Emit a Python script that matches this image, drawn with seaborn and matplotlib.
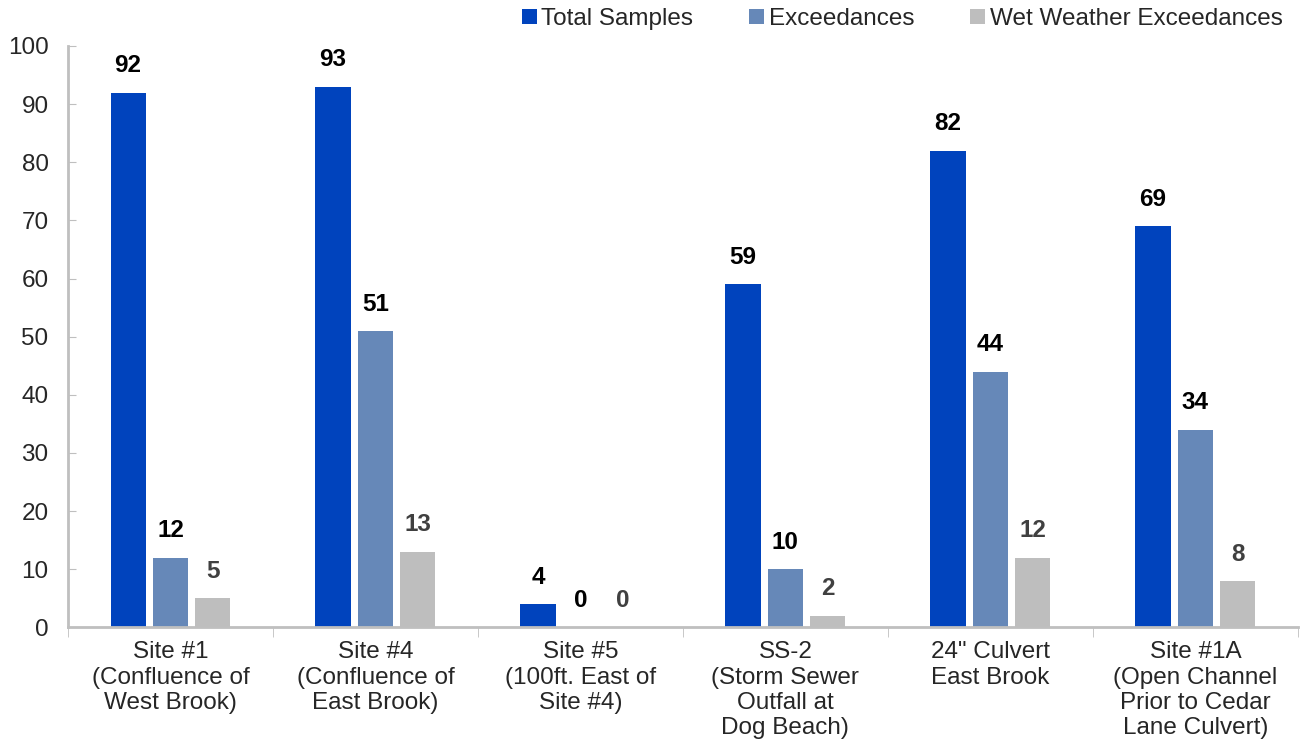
import pandas as pd
import matplotlib.pyplot as plt
import seaborn as sns

sites = [
    "Site #1\n(Confluence of\nWest Brook)",
    "Site #4\n(Confluence of\nEast Brook)",
    "Site #5\n(100ft. East of\nSite #4)",
    "SS-2\n(Storm Sewer\nOutfall at\nDog Beach)",
    "24\" Culvert\nEast Brook",
    "Site #1A\n(Open Channel\nPrior to Cedar\nLane Culvert)",
]
total_samples = [92, 93, 4, 59, 82, 69]
exceedances = [12, 51, 0, 10, 44, 34]
wet_exceedances = [5, 13, 0, 2, 12, 8]
series = ["Total Samples", "Exceedances", "Wet Weather Exceedances"]
colores = ["#0043BD", "#6688B8", "#BEBEBE"]

dados = pd.DataFrame({
    "Site": sites * 3,
    "Serie": [series[0]] * 6 + [series[1]] * 6 + [series[2]] * 6,
    "Valor": total_samples + exceedances + wet_exceedances,
})

sns.set_style("white")
plt.rcParams["font.family"] = ["Liberation Sans", "DejaVu Sans"]

fig = plt.figure(figsize=(13.07, 7.54), dpi=100)
ax = fig.add_axes([0.052, 0.168, 0.941, 0.771])

sns.barplot(data=dados, x="Site", y="Valor", hue="Serie", palette=colores,
            width=0.62, gap=0.17, saturation=1, linewidth=0, ax=ax, legend=True)

cores_rotulo = ["black", "black", "#404040"]
for cont, cor in zip(ax.containers, cores_rotulo):
    ax.bar_label(cont, padding=11, fontsize=17.5, fontweight="bold", color=cor)

ax.set_ylim(0, 100)
ax.set_xlim(-0.5, 5.5)
ax.set_yticks(range(0, 101, 10))
ax.set_xlabel("")
ax.set_ylabel("")
ax.tick_params(axis="y", labelsize=17.5, direction="in", length=6, color="#BFBFBF", left=True, pad=14)
ax.tick_params(axis="x", which="major", labelsize=17.5, length=0, pad=10)
ax.set_xticks([i + 0.5 for i in range(-1, 6)], minor=True)
ax.tick_params(axis="x", which="minor", length=7, color="#BFBFBF", bottom=True, direction="out")

for lado in ["top", "right"]:
    ax.spines[lado].set_visible(False)
for lado in ["left", "bottom"]:
    ax.spines[lado].set_color("#BFBFBF")
    ax.spines[lado].set_linewidth(2)

handles, labels = ax.get_legend_handles_labels()
ax.legend_.remove()
fig.legend(handles, labels, loc="upper right", bbox_to_anchor=(0.998, 1.018), ncol=3,
           frameon=False, fontsize=17.5, handlelength=0.6, handleheight=0.6,
           handletextpad=0.2, columnspacing=2.3)

plt.savefig("out.png", dpi=100)
